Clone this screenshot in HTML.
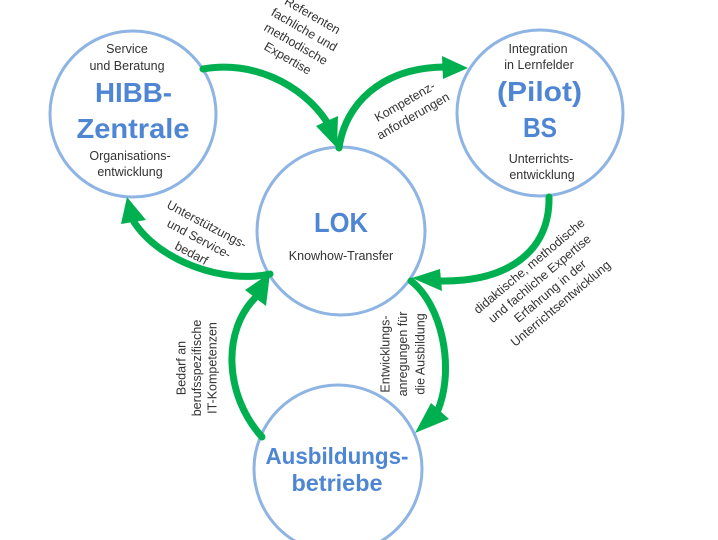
<!DOCTYPE html>
<html>
<head>
<meta charset="utf-8">
<style>
  html, body { margin: 0; padding: 0; background: #ffffff; }
  svg { display: block; }
  .sm { font-family: "Liberation Sans", "DejaVu Sans", sans-serif; font-size: 12.5px; fill: #333333; }
  .big { font-family: "Liberation Sans", "DejaVu Sans", sans-serif; font-weight: bold; fill: #4f86d4; }
</style>
</head>
<body>
<svg width="718" height="540" viewBox="0 0 718 540" xmlns="http://www.w3.org/2000/svg">
  <rect x="0" y="0" width="718" height="540" fill="#ffffff"/>

  <!-- circles -->
  <g fill="#ffffff" stroke="#8eb4e3" stroke-width="3">
    <circle cx="133" cy="114" r="83"/>
    <circle cx="540" cy="113" r="83"/>
    <circle cx="341" cy="231" r="84"/>
    <circle cx="338" cy="469" r="84"/>
  </g>

  <!-- arrows -->
  <g fill="none" stroke="#00b050" stroke-width="7" stroke-linecap="round">
    <path d="M203,69 C252,60 302,84 327,122"/>
    <path d="M339,148 C345,105 380,68 444,67"/>
    <path d="M549,197 C550,250 510,282 440,281"/>
    <path d="M411,281 C442,305 455,368 438,410"/>
    <path d="M262,437 C224,395 222,330 256,297"/>
    <path d="M270,274 C225,284 160,262 134,222"/>
  </g>
  <g fill="#00b050">
    <polygon points="337,148 316,126 338,116"/>
    <polygon points="468,68 442,56 443,79"/>
    <polygon points="412,278 440,269 442,291"/>
    <polygon points="415,433 431,403 449,419"/>
    <polygon points="270,273 245,290 266,306"/>
    <polygon points="127,197 121,224 146,220"/>
  </g>

  <!-- HIBB text -->
  <text class="sm" x="127" y="53" text-anchor="middle">Service</text>
  <text class="sm" x="127" y="70" text-anchor="middle">und Beratung</text>
  <text class="big" x="133.5" y="102" font-size="28" text-anchor="middle" textLength="77" lengthAdjust="spacingAndGlyphs">HIBB-</text>
  <text class="big" x="133" y="138" font-size="28" text-anchor="middle" textLength="113" lengthAdjust="spacingAndGlyphs">Zentrale</text>
  <text class="sm" x="130" y="160" text-anchor="middle">Organisations-</text>
  <text class="sm" x="130" y="176" text-anchor="middle">entwicklung</text>

  <!-- BS text -->
  <text class="sm" x="538" y="53" text-anchor="middle">Integration</text>
  <text class="sm" x="539" y="69" text-anchor="middle">in Lernfelder</text>
  <text class="big" x="539.5" y="101" font-size="28" text-anchor="middle" textLength="85" lengthAdjust="spacingAndGlyphs">(Pilot)</text>
  <text class="big" x="540" y="137" font-size="28" text-anchor="middle" textLength="34" lengthAdjust="spacingAndGlyphs">BS</text>
  <text class="sm" x="541" y="163" text-anchor="middle">Unterrichts-</text>
  <text class="sm" x="542" y="179" text-anchor="middle">entwicklung</text>

  <!-- LOK text -->
  <text class="big" x="341" y="232" font-size="28" text-anchor="middle" textLength="54" lengthAdjust="spacingAndGlyphs">LOK</text>
  <text class="sm" x="341" y="260" text-anchor="middle">Knowhow-Transfer</text>

  <!-- Ausbildungsbetriebe text -->
  <text class="big" x="337" y="464" font-size="23" text-anchor="middle" textLength="143" lengthAdjust="spacingAndGlyphs">Ausbildungs-</text>
  <text class="big" x="337" y="491" font-size="23" text-anchor="middle" textLength="91" lengthAdjust="spacingAndGlyphs">betriebe</text>

  <!-- rotated labels -->
  <g transform="translate(300,37) rotate(30)">
    <text class="sm" x="0" y="-20.75" text-anchor="middle">Referenten</text>
    <text class="sm" x="0" y="-4.25" text-anchor="middle">fachliche und</text>
    <text class="sm" x="0" y="12.25" text-anchor="middle">methodische</text>
    <text class="sm" x="0" y="28.75" text-anchor="middle">Expertise</text>
  </g>

  <g transform="translate(409,109) rotate(-30)">
    <text class="sm" x="0" y="-4.25" text-anchor="middle">Kompetenz-</text>
    <text class="sm" x="0" y="12.25" text-anchor="middle">anforderungen</text>
  </g>

  <g transform="translate(545,285) rotate(-40)">
    <text class="sm" x="0" y="-20.5" text-anchor="middle">didaktische, methodische</text>
    <text class="sm" x="0" y="-4.2" text-anchor="middle">und fachliche Expertise</text>
    <text class="sm" x="0" y="12.1" text-anchor="middle">Erfahrung in der</text>
    <text class="sm" x="0" y="28.4" text-anchor="middle">Unterrichtsentwicklung</text>
  </g>

  <g transform="translate(403,354) rotate(-90)">
    <text class="sm" x="0" y="-13.5" text-anchor="middle">Entwicklungs-</text>
    <text class="sm" x="0" y="4" text-anchor="middle">anregungen für</text>
    <text class="sm" x="0" y="21.5" text-anchor="middle">die Ausbildung</text>
  </g>

  <g transform="translate(197,368) rotate(-90)">
    <text class="sm" x="0" y="-11.5" text-anchor="middle">Bedarf an</text>
    <text class="sm" x="0" y="4" text-anchor="middle">berufsspezifische</text>
    <text class="sm" x="0" y="19.5" text-anchor="middle">IT-Kompetenzen</text>
  </g>

  <g transform="translate(199,239) rotate(28)">
    <text class="sm" x="0" y="-12.3" text-anchor="middle">Unterstützungs-</text>
    <text class="sm" x="0" y="4" text-anchor="middle">und Service-</text>
    <text class="sm" x="0" y="20.3" text-anchor="middle">bedarf</text>
  </g>
</svg>
</body>
</html>
